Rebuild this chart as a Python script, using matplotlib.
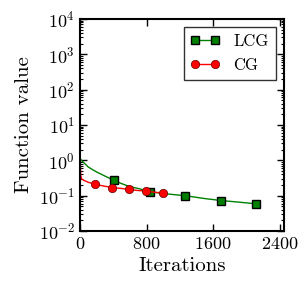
import matplotlib
matplotlib.use("Agg")
import matplotlib.pyplot as plt
from matplotlib.ticker import LogLocator

plt.rcParams["font.family"] = "cmr10"
plt.rcParams["mathtext.fontset"] = "cm"
plt.rcParams["axes.formatter.use_mathtext"] = True

# LCG run
lcg_iter = [0, 1, 5, 20, 50, 100, 150, 200, 300, 410, 500, 600, 700, 841,
            1000, 1264, 1500, 1694, 1900, 2113]
lcg_val = [3000, 1.2, 1.1, 1.0, 0.85, 0.65, 0.55, 0.47, 0.36, 0.27, 0.22,
           0.18, 0.16, 0.13, 0.115, 0.10, 0.083, 0.073, 0.066, 0.059]
lcg_marks = [9, 13, 15, 17, 19]

# CG run
cg_iter = [0, 2, 5, 10, 20, 50, 100, 185, 300, 390, 500, 587, 700, 792, 900, 993]
cg_val = [3500, 5, 1.0, 0.4, 0.3, 0.27, 0.24, 0.21, 0.185, 0.17, 0.16, 0.15,
          0.14, 0.135, 0.125, 0.12]
cg_marks = [7, 9, 11, 13, 15]

fig = plt.figure(figsize=(3.06, 2.91), dpi=100)
ax = fig.add_axes([0.261, 0.206, 0.667, 0.729])

ax.semilogy(lcg_iter, lcg_val, color="green", lw=1, marker="s", ms=6,
            mfc="green", mec="k", mew=1, markevery=lcg_marks, label="LCG")
ax.semilogy(cg_iter, cg_val, color="red", lw=1, marker="o", ms=6,
            mfc="red", mec="#600000", mew=0.5, markevery=cg_marks, label="CG")

ax.set_xlim(0, 2450)
ax.set_ylim(1e-2, 1e4)
ax.set_xticks([0, 800, 1600, 2400])
ax.yaxis.set_major_locator(LogLocator(base=10, numticks=20))
ax.yaxis.set_minor_locator(LogLocator(base=10, subs=range(2, 10), numticks=20))
ax.tick_params(which="both", direction="in", top=True, right=True, labelsize=13)
ax.tick_params(which="major", length=5, width=1)
ax.tick_params(which="minor", length=2.5, width=0.8)
for s in ax.spines.values():
    s.set_linewidth(1.5)

ax.set_xlabel("Iterations", fontsize=15)
ax.set_ylabel("Function value", fontsize=15)

leg = ax.legend(loc="upper right", numpoints=2, fancybox=False, fontsize=12,
                handlelength=1.8, borderaxespad=0.5)
leg.get_frame().set_edgecolor("k")
leg.get_frame().set_linewidth(1)

fig.savefig("out.png", dpi=100)
